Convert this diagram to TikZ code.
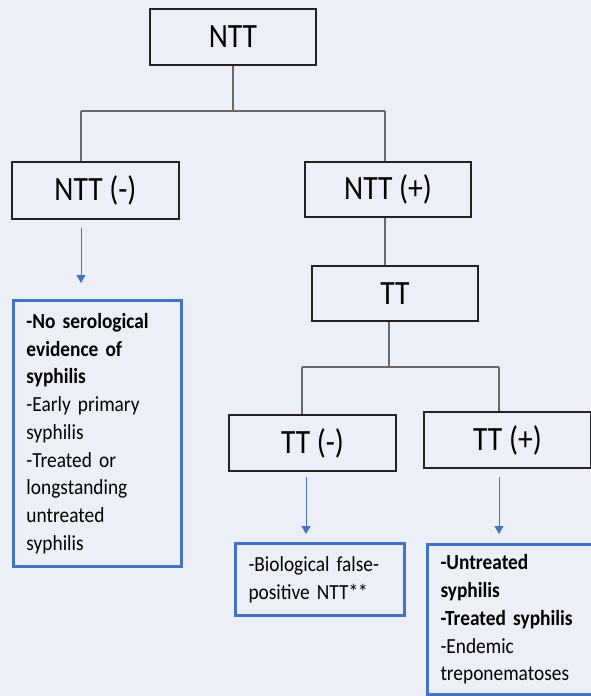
\documentclass[tikz,border=0pt]{standalone}
\usepackage{fontspec}
\setmainfont{Carlito}
\newfontfamily\bodyf{Carlito}[FakeStretch=0.9]
\newfontfamily\bigf{Carlito}[FakeStretch=0.87]
\usetikzlibrary{arrows.meta,calc}
\definecolor{bgc}{RGB}{236,239,248}
\definecolor{boxblue}{RGB}{68,114,196}
\definecolor{conngray}{RGB}{105,105,105}
\definecolor{boxblack}{RGB}{35,35,35}
\tikzset{
  testbox/.style={draw=boxblack, line width=2pt, fill=bgc, inner sep=0pt,
    font=\bigf\fontsize{34}{40}\selectfont},
  resultbox/.style={draw=boxblue, line width=3pt, fill=bgc, anchor=north west,
    align=left, inner xsep=13pt, inner ysep=0pt,
    font=\bodyf\fontsize{21.5}{27.7}\selectfont},
  conn/.style={draw=conngray, line width=1.3pt},
  bluearrow/.style={draw=boxblue, line width=1pt, -{Triangle[width=9pt,length=8pt]}}
}
\begin{document}
\begin{tikzpicture}[x=1pt,y=-1pt]
\fill[bgc] (0,0) rectangle (591,696);
\useasboundingbox (0,0) rectangle (591,696);

% test boxes
\node[testbox, minimum width=166pt, minimum height=56pt] (ntt) at (233,37) {NTT};
\node[testbox, minimum width=167pt, minimum height=57pt] (nttm) at (95.5,190.5) {NTT (-)};
\node[testbox, minimum width=166pt, minimum height=55pt] (nttp) at (388,189.5) {NTT (+)};
\node[testbox, minimum width=166pt, minimum height=55pt] (tt) at (395,293.5) {TT};
\node[testbox, minimum width=167pt, minimum height=56pt] (ttm) at (312.5,443) {TT (-)};
\node[testbox, minimum width=167pt, minimum height=56pt] (ttp) at (507.5,440) {TT (+)};

% result boxes
\node[resultbox, text width=142pt, minimum height=266pt] (res1) at (12,299)
  {\textbf{-No serological}\\\textbf{evidence of}\\\textbf{syphilis}\\-Early primary\\syphilis\\-Treated or\\longstanding\\untreated\\syphilis};
\node[resultbox, text width=143pt, minimum height=72pt] (res2) at (234,542)
  {-Biological false-\\positive NTT**};
\node[resultbox, text width=146pt, minimum height=150pt] (res3) at (426,543)
  {\textbf{-Untreated}\\\textbf{syphilis}\\\textbf{-Treated syphilis}\\-Endemic\\treponematoses};

% junction coordinates
\coordinate (j1) at (233,111);
\coordinate (j1l) at (81,111);
\coordinate (j1r) at (385,111);
\coordinate (j2) at (389,367);
\coordinate (j2l) at (302,367);
\coordinate (j2r) at (499,367);
\coordinate (a1s) at (81,228);
\coordinate (a2s) at (306,477);
\coordinate (a3s) at (499,477);

% connectors
\draw[conn] (ntt.south) -- (j1);
\draw[conn] (j1l) -- (j1r);
\draw[conn] (j1l) -- (j1l |- nttm.north);
\draw[conn] (j1r) -- (j1r |- nttp.north);
\draw[conn] (j1r |- nttp.south) -- (j1r |- tt.north);
\draw[conn] (j2 |- tt.south) -- (j2);
\draw[conn] (j2l) -- (j2r);
\draw[conn] (j2l) -- (j2l |- ttm.north);
\draw[conn] (j2r) -- (j2r |- ttp.north);

% blue arrows
\draw[bluearrow] (a1s) -- ($(a1s |- res1.north)+(0,-16)$);
\draw[bluearrow] (a2s) -- ($(a2s |- res2.north)+(0,-8)$);
\draw[bluearrow] (a3s) -- ($(a3s |- res3.north)+(0,-9)$);
\end{tikzpicture}
\end{document}
